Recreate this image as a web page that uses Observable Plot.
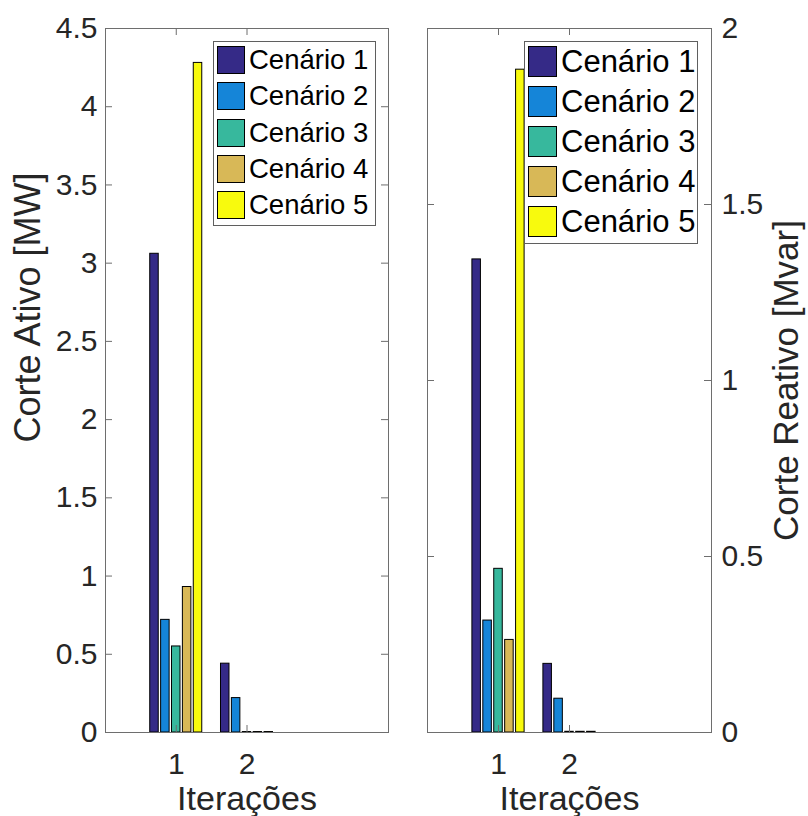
<!DOCTYPE html>
<html>
<head>
<meta charset="utf-8">
<script src="https://cdn.jsdelivr.net/npm/d3@7"></script>
<script src="https://cdn.jsdelivr.net/npm/@observablehq/plot@0.6"></script>
<style>
  html, body { margin: 0; padding: 0; background: #ffffff; }
  #figure { position: relative; width: 808px; height: 816px; font-family: "Liberation Sans", Arial, Helvetica, sans-serif; }
  .panel { position: absolute; top: 0; }
  .legend { position: absolute; background: #ffffff; border: 1px solid #5f5f5f; box-sizing: border-box; }
  .legend .item { position: absolute; display: flex; align-items: center; color: #000; white-space: nowrap; }
  .legend .swatch { box-sizing: border-box; border: 1px solid #000; flex: none; }
</style>
</head>
<body>
<div id="figure"></div>
<script>
// Scenarios and iterations of the load-shedding study
const scenarios = ["Cenário 1", "Cenário 2", "Cenário 3", "Cenário 4", "Cenário 5"];
const iterations = [1, 2];

// Active power shed per scenario, one value per iteration [MW]
const corteAtivo = [
  [3.06, 0.44],
  [0.72, 0.22],
  [0.55, 0.003],
  [0.93, 0.003],
  [4.28, 0.003]
];

// Reactive power shed per scenario, one value per iteration [Mvar]
const corteReativo = [
  [1.344, 0.195],
  [0.318, 0.096],
  [0.465, 0.002],
  [0.263, 0.002],
  [1.883, 0.002]
];

// Axis ticks
const xTicks = [1, 2];
const yTicksAtivo = [0, 0.5, 1, 1.5, 2, 2.5, 3, 3.5, 4, 4.5];
const yTicksReativo = [0, 0.5, 1, 1.5, 2];

// parula-like palette, one colour per scenario
const colors = ["#352a87", "#1585d8", "#37b89d", "#d8b857", "#f8fa0d"];

const W = 404, H = 816;
const MT = 28, MB = 84;
const groupStep = 0.1538;   // distance between bars inside a group (x units)
const barWidth = 0.12;      // bar width (x units)
const tickLen = 7;
const axisGray = "#6e6e6e";
const textColor = "#262626";

function rowsOf(values) {
  return scenarios.flatMap((s, k) =>
    iterations.map((it, j) => ({ scenario: s, k, iter: it, value: values[k][j] }))
  );
}

function panel({ values, yMax, yTicks, side, label, labelSize, marginLeft, marginRight, labelDx, labelDy }) {
  const plotW = W - marginLeft - marginRight;
  const plotH = H - MT - MB;
  const offset = (scenarios.length - 1) / 2;
  return Plot.plot({
    width: W,
    height: H,
    marginTop: MT,
    marginBottom: MB,
    marginLeft,
    marginRight,
    x: { type: "linear", domain: [0, 4], axis: null },
    y: { type: "linear", domain: [0, yMax], axis: null },
    style: { fontFamily: "'Liberation Sans', Arial, Helvetica, sans-serif", color: textColor, background: "transparent", overflow: "visible" },
    marks: [
      Plot.rectY(rowsOf(values), {
        x1: d => d.iter + (d.k - offset) * groupStep - barWidth / 2,
        x2: d => d.iter + (d.k - offset) * groupStep + barWidth / 2,
        y1: 0,
        y2: "value",
        fill: d => colors[d.k],
        stroke: "#000000",
        strokeWidth: 1
      }),
      Plot.frame({ stroke: axisGray, strokeWidth: 1 }),
      // inward ticks on all four sides of the box
      Plot.tickY(yTicks, { y: d => d, stroke: axisGray, insetRight: plotW - tickLen }),
      Plot.tickY(yTicks, { y: d => d, stroke: axisGray, insetLeft: plotW - tickLen }),
      Plot.tickX(xTicks, { x: d => d, stroke: axisGray, insetTop: plotH - tickLen }),
      Plot.tickX(xTicks, { x: d => d, stroke: axisGray, insetBottom: plotH - tickLen }),
      Plot.axisY({ ticks: yTicks, anchor: side, tickSize: 0, tickPadding: side === "left" ? 8 : 10, fontSize: 30, label: null, tickFormat: d => String(d), fill: textColor }),
      Plot.axisX({ ticks: xTicks, anchor: "bottom", tickSize: 0, tickPadding: 20, fontSize: 30, label: null, tickFormat: d => String(d), fill: textColor }),
      Plot.text([label], { text: d => d, frameAnchor: side, textAnchor: "middle", lineAnchor: "middle", rotate: -90, dx: labelDx, dy: labelDy, fontSize: labelSize, fill: textColor }),
      Plot.text(["Iterações"], { text: d => d, frameAnchor: "bottom", textAnchor: "middle", lineAnchor: "top", dy: 53, fontSize: 34, fill: textColor })
    ]
  });
}

function legend({ left, top, width, height, swW, swH, padX, padY, step, gap, fontSize }) {
  const box = document.createElement("div");
  box.className = "legend";
  Object.assign(box.style, { left: left + "px", top: top + "px", width: width + "px", height: height + "px" });
  scenarios.forEach((s, k) => {
    const item = document.createElement("div");
    item.className = "item";
    Object.assign(item.style, { left: padX + "px", top: (padY + k * step) + "px", height: swH + "px", fontSize: fontSize + "px" });
    const sw = document.createElement("div");
    sw.className = "swatch";
    Object.assign(sw.style, { width: swW + "px", height: swH + "px", background: colors[k], marginRight: gap + "px" });
    const txt = document.createElement("span");
    txt.textContent = s;
    item.append(sw, txt);
    box.append(item);
  });
  return box;
}

const fig = document.getElementById("figure");

const left = panel({
  values: corteAtivo, yMax: 4.5, yTicks: yTicksAtivo, side: "left",
  label: "Corte Ativo [MW]", labelSize: 36, marginLeft: 105, marginRight: 16, labelDx: -77, labelDy: -73
});
left.classList.add("panel");
left.style.left = "0px";
fig.append(left);

const right = panel({
  values: corteReativo, yMax: 2, yTicks: yTicksReativo, side: "right",
  label: "Corte Reativo [Mvar]", labelSize: 35, marginLeft: 23, marginRight: 97, labelDx: 75, labelDy: 0
});
right.classList.add("panel");
right.style.left = "404px";
fig.append(right);

fig.append(legend({ left: 213, top: 41, width: 163, height: 185, swW: 28, swH: 28, padX: 3, padY: 4, step: 36.3, gap: 4, fontSize: 27.5 }));
fig.append(legend({ left: 524, top: 41, width: 174, height: 203, swW: 29, swH: 31, padX: 3, padY: 4, step: 40, gap: 4, fontSize: 31 }));
</script>
</body>
</html>
